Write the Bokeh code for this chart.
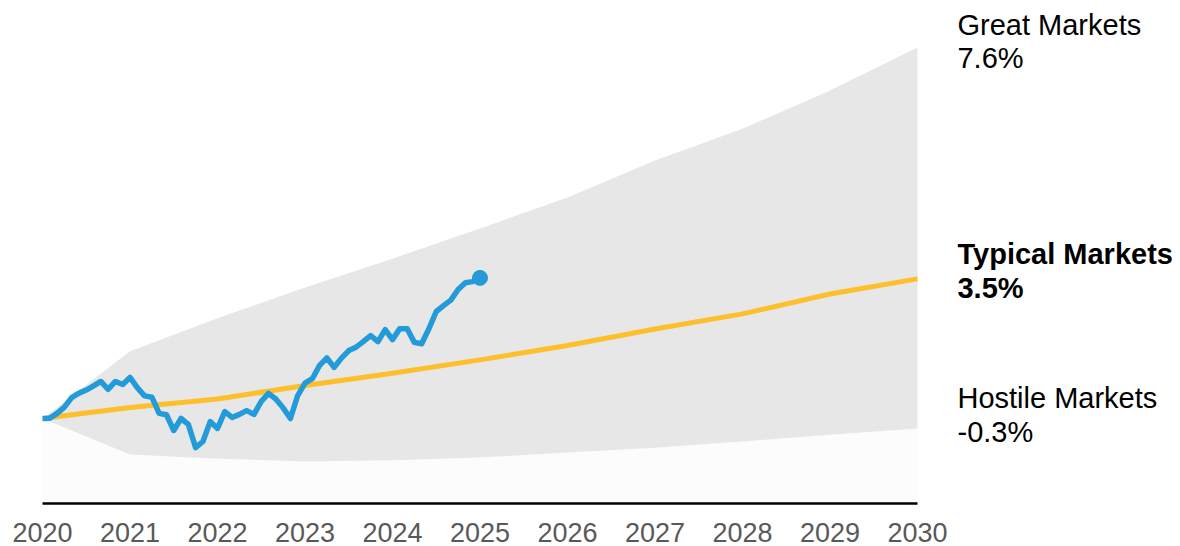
from bokeh.plotting import figure
from bokeh.models import Range1d, FixedTicker
from bokeh.core.properties import value
from bokeh.embed import file_html
from bokeh.resources import INLINE

# ---- data ----
years = [2020, 2021, 2022, 2023, 2024, 2025, 2026, 2027, 2028, 2029, 2030]
tick_labels = {y: str(y) for y in years}

great_markets = [100.0, 119.6, 129.2, 138.2, 146.6, 155.4, 164.4, 175.2, 184.5, 195.6, 208.2]
hostile_markets = [100.0, 89.5, 88.3, 87.5, 87.8, 88.6, 90.1, 91.5, 93.3, 95.3, 97.1]
typical_markets = [100.0, 103.2, 105.7, 109.6, 113.2, 117.1, 121.3, 126.1, 130.5, 136.3, 140.7]

# monthly actual path, Jan 2020 .. Jan 2025
actual_values = [
    100.0, 100.1, 101.5, 103.3, 106.1, 107.4, 108.3, 109.5, 110.8, 108.5, 110.8, 109.9,
    112.0, 109.0, 106.6, 106.2, 101.5, 101.1, 96.5, 100.0, 98.3, 91.5, 93.3, 99.1,
    97.1, 102.0, 100.3, 101.2, 102.3, 101.2, 105.0, 107.3, 105.7, 103.1, 100.0, 106.7,
    110.3, 111.6, 115.5, 117.7, 114.9, 117.6, 119.8, 120.8, 122.4, 124.2, 122.4, 125.9,
    123.0, 126.2, 126.2, 122.2, 121.8, 126.2, 131.2, 132.9, 134.5, 137.6, 139.6, 139.9,
    141.0,
]
actual_months = [2020 + i / 12 for i in range(len(actual_values))]

label_great = ["Great Markets", "7.6%"]
label_typical = ["Typical Markets", "3.5%"]
label_hostile = ["Hostile Markets", "-0.3%"]

FONT = "Liberation Sans"
BAND = "#e7e7e7"
BLUE = "#229bd8"
GOLD = "#fdbf2b"

p = figure(
    width=1180, height=546,
    x_range=Range1d(2020, 2033.006), y_range=Range1d(75.22, 221.87),
    output_backend="svg", toolbar_location=None,
    y_axis_location=None,
    min_border_left=42, min_border_right=0, min_border_top=0, min_border_bottom=43,
)
p.outline_line_color = None
p.grid.visible = False
p.background_fill_color = "white"
p.border_fill_color = "white"

# faint base area and cone
p.varea(x=years, y1=[p.y_range.start] * len(years), y2=hostile_markets, fill_color="#fcfcfc")
p.varea(x=years, y1=hostile_markets, y2=great_markets, fill_color=BAND)

# typical line
p.line(years, typical_markets, line_color=GOLD, line_width=5, line_join="round")

# actual path
p.line(actual_months, actual_values, line_color=BLUE, line_width=5.5,
       line_join="round", line_cap="round")
p.scatter([actual_months[-1]], [actual_values[-1]], size=15, color=BLUE)

# axis
ax = p.xaxis[0]
ax.ticker = FixedTicker(ticks=years)
ax.bounds = (years[0], years[-1])
ax.major_label_overrides = tick_labels
ax.major_tick_line_color = None
ax.minor_tick_line_color = None
ax.axis_line_color = "black"
ax.axis_line_width = 2.5
ax.major_label_text_font = FONT
ax.major_label_text_font_size = "27px"
ax.major_label_text_color = "#595959"
ax.major_label_standoff = 13

# right-hand scenario labels
def add_label(lines, yval, bold, first_off, second_off):
    style = "bold" if bold else "normal"
    for txt, off in ((lines[0], first_off), (lines[1], second_off)):
        p.text(x=[years[-1]], y=[yval], text=[txt], x_offset=40, y_offset=off,
               text_font=value(FONT), text_font_size="29px", text_font_style=style,
               text_color="black", text_baseline="alphabetic", text_align="left")

add_label(label_great, great_markets[-1], False, -22, 11)
add_label(label_typical, typical_markets[-1], True, -25, 9)
add_label(label_hostile, hostile_markets[-1], False, -30, 4)

open("out.html", "w").write(file_html(p, INLINE))
